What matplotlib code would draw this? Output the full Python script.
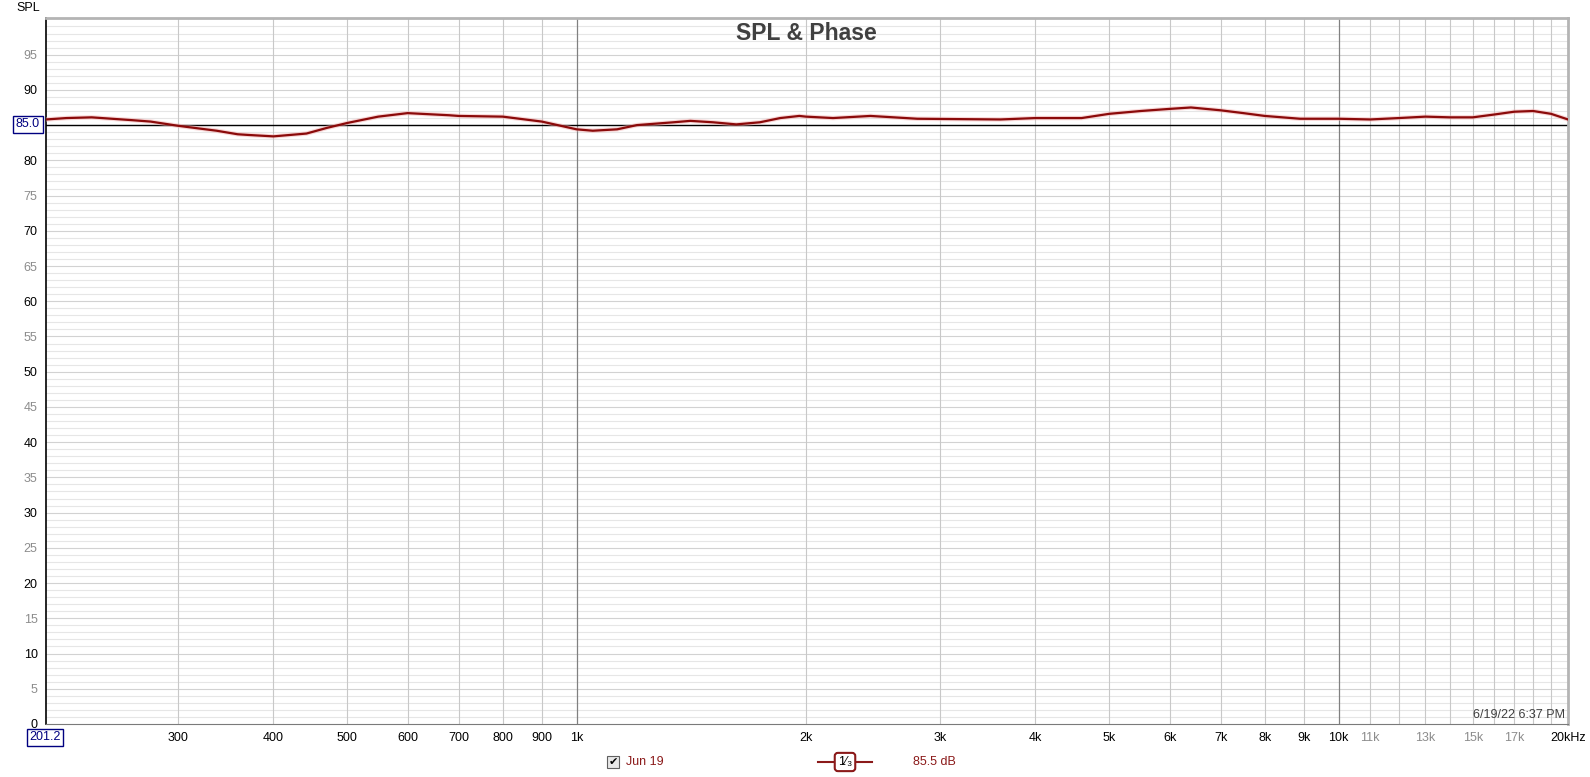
import matplotlib
matplotlib.use('Agg')
import matplotlib.pyplot as plt
import numpy as np

plt.rcParams['font.family'] = ['Liberation Sans', 'DejaVu Sans']

# measured SPL curve (Hz, dB)
freq = [201.2, 214, 231, 261, 276, 300, 337, 359, 371, 400, 442, 470, 500, 549,
        600, 680, 700, 800, 900, 1000, 1050, 1130, 1200, 1340, 1410, 1510, 1620,
        1740, 1850, 1960, 2000, 2170, 2430, 2800, 3600, 4000, 4600, 5000, 5500,
        6000, 6400, 7000, 7500, 8000, 8900, 10000, 11000, 12000, 13000, 14000,
        15000, 16000, 17000, 18000, 19000, 20000]
spl = [85.8, 86.0, 86.1, 85.7, 85.5, 84.9, 84.2, 83.7, 83.6, 83.4, 83.8, 84.6, 85.3, 86.2,
       86.7, 86.4, 86.3, 86.2, 85.5, 84.4, 84.2, 84.4, 85.0, 85.4, 85.6, 85.4, 85.1,
       85.4, 86.0, 86.3, 86.2, 86.0, 86.3, 85.9, 85.8, 86.0, 86.0, 86.6, 87.0,
       87.3, 87.5, 87.1, 86.7, 86.3, 85.9, 85.9, 85.8, 86.0, 86.2, 86.1,
       86.1, 86.5, 86.9, 87.0, 86.6, 85.8]

ref_level = 85.0
x_min, x_max = 201.2, 20000
y_min, y_max = 0, 100.2

major_x = [300, 400, 500, 600, 700, 800, 900, 1000, 2000, 3000, 4000, 5000, 6000,
           7000, 8000, 9000, 10000, 11000, 13000, 15000, 17000, 20000]
major_x_labels = ['300', '400', '500', '600', '700', '800', '900', '1k', '2k', '3k', '4k',
                  '5k', '6k', '7k', '8k', '9k', '10k', '11k', '13k', '15k', '17k', '20kHz']
grey_x_labels = ['11k', '13k', '15k', '17k']
extra_x = [12000, 14000, 16000, 18000, 19000]

W, H = 1590, 777
fig = plt.figure(figsize=(W / 100, H / 100), dpi=100)
ax = fig.add_axes([46 / W, 1 - 724 / H, (1568 - 46) / W, (724 - 18) / H])
ax.set_xscale('log')
ax.set_xlim(x_min, x_max)
ax.set_ylim(y_min, y_max)

# grid
for v in range(1, 100):
    c = '#d2d2d2' if v % 5 == 0 else '#e6e6e6'
    ax.axhline(v, color=c, lw=0.8, zorder=0)
for f in major_x + extra_x:
    if f in (1000, 10000):
        ax.axvline(f, color='#808080', lw=0.9, zorder=0)
    elif f < 20000:
        ax.axvline(f, color='#c8c8c8', lw=0.8, zorder=0)
ax.axhline(ref_level, color='black', lw=1.0, zorder=2)

ax.plot(freq, spl, color='#f3b0b0', lw=3.2, alpha=0.5, zorder=3, solid_capstyle='round')
ax.plot(freq, spl, color='#8b0a0a', lw=1.6, zorder=4, solid_joinstyle='round')

# ticks
ax.minorticks_off()
ax.set_xticks(major_x)
ax.set_xticklabels(major_x_labels)
for t in ax.get_xticklabels():
    if t.get_text() in grey_x_labels:
        t.set_color('#8c8c8c')
yt = [v for v in range(0, 100, 5) if v != 85]
ax.set_yticks(yt)
ax.set_yticklabels([str(v) for v in yt])
for t, v in zip(ax.get_yticklabels(), yt):
    t.set_color('black' if v % 10 == 0 else '#8c8c8c')
ax.tick_params(axis='both', length=0, labelsize=9)
ax.tick_params(axis='x', pad=6)
ax.tick_params(axis='y', pad=6)

for s in ['top', 'right']:
    ax.spines[s].set_color('#b4b4b4')
    ax.spines[s].set_linewidth(2)
ax.spines['bottom'].set_color('#7a7a7a')
ax.spines['left'].set_color('black')
ax.spines['left'].set_linewidth(1.2)

# title and labels
fig.text(806 / W, 1 - 34 / H, 'SPL & Phase', ha='center', va='center', fontsize=16.5,
         fontweight='bold', color='#404040')
fig.text(16 / W, 1 - 8 / H, 'SPL', ha='left', va='center', fontsize=9, color='black')
fig.text(1565 / W, 1 - 715 / H, '6/19/22 6:37 PM', ha='right', va='center', fontsize=9,
         color='#404040')

box = dict(boxstyle='square,pad=0.2', fc='white', ec='#000080', lw=1)
fig.text(28 / W, 1 - 124 / H, '85.0', ha='center', va='center', fontsize=9,
         color='#000080', bbox=box)
fig.text(45 / W, 1 - 737 / H, '201.2', ha='center', va='center', fontsize=9,
         color='#000080', bbox=box)

# legend row
ly = 1 - 762 / H
fig.text(613 / W, ly, '\u2714', ha='center', va='center', fontsize=8,
         color='black', bbox=dict(boxstyle='square,pad=0.12', fc='#e8e8e8', ec='#606060', lw=0.8))
fig.text(626 / W, ly, 'Jun 19', ha='left', va='center', fontsize=9, color='#8b1a1a')
fig.add_artist(plt.Line2D([818 / W, 872 / W], [ly, ly], color='#8b1a1a',
                          lw=1.5, transform=fig.transFigure))
fig.text(845 / W, ly, '1\u2044\u2083', ha='center', va='center', fontsize=9,
         color='black', bbox=dict(boxstyle='round,pad=0.25', fc='white', ec='#8b1a1a', lw=1.5))
fig.text(913 / W, ly, '85.5 dB', ha='left', va='center', fontsize=9, color='#8b1a1a')

fig.savefig('out.png', dpi=100)
